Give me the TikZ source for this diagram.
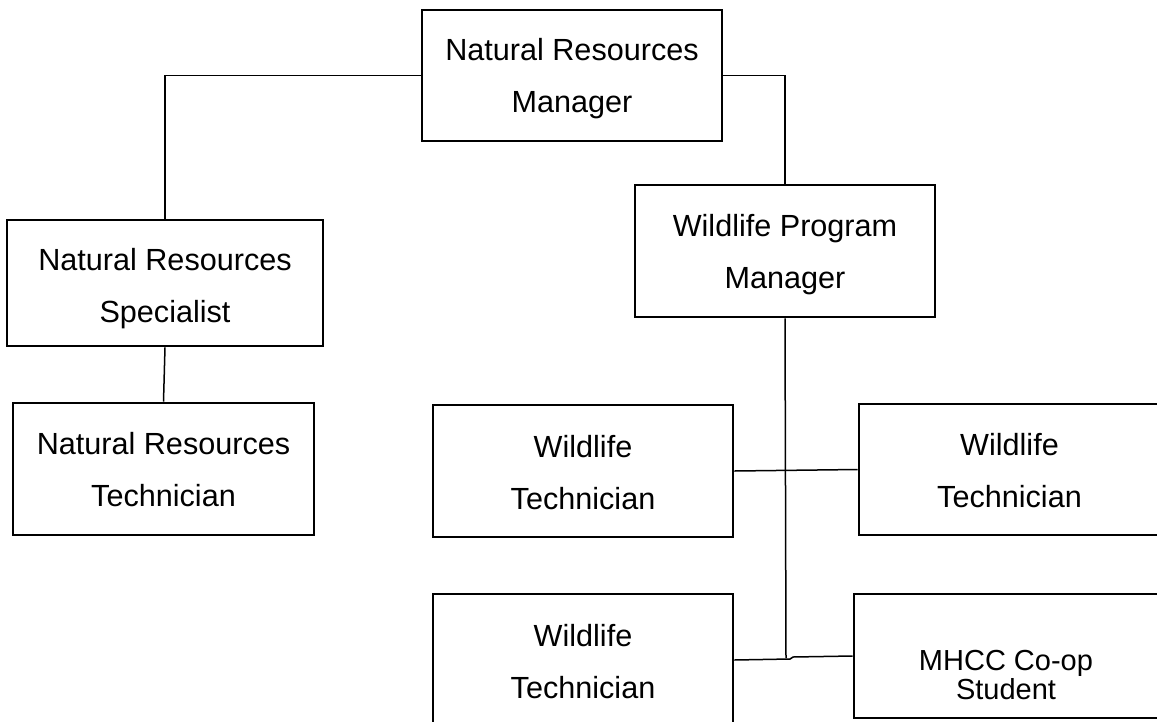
\documentclass[tikz,border=0pt]{standalone}
\usepackage{fontspec}
\setmainfont{Liberation Sans}
\begin{document}
\begin{tikzpicture}[x=1pt,y=-1pt,
  box/.style={draw=black,line width=2.6pt,inner sep=0pt,minimum width=#1},
  box/.default=300pt,
  txt/.style={inner sep=0pt,align=center,font=\fontsize{30.6}{52}\selectfont},
  stxt/.style={inner sep=0pt,align=center,font=\fontsize{29}{27}\selectfont},
  link/.style={draw=black,line width=1.5pt}]
\useasboundingbox (0,0) rectangle (1157,721);
\fill[white] (0,0) rectangle (1157,721);
% boxes
\node[box=300pt,minimum height=131pt] (nrm) at (572,75.5) {};
\node[box=316pt,minimum height=126pt] (nrs) at (165,283) {};
\node[box=301pt,minimum height=132pt] (nrt) at (163.5,469) {};
\node[box=300pt,minimum height=132pt] (wpm) at (785,251) {};
\node[box=300pt,minimum height=132pt] (wt1) at (583,471) {};
\node[box=301pt,minimum height=131pt] (wt2) at (1009.5,469.5) {};
\node[box=300pt,minimum height=132pt] (wt3) at (583,660) {};
\node[box=304pt,minimum height=124pt] (mhcc) at (1006,656) {};
% texts
\node[txt] (nrmT) at ([yshift=-3.5pt]nrm.center) {Natural Resources\\Manager};
\node[txt] (nrsT) at ([yshift=-6pt]nrs.center) {Natural Resources\\Specialist};
\node[txt] (nrtT) at ([yshift=-1pt]nrt.center) {Natural Resources\\Technician};
\node[txt] (wpmT) at ([yshift=-4pt]wpm.center) {Wildlife Program\\Manager};
\node[txt] (wt1T) at ([yshift=-1.5pt]wt1.center) {Wildlife\\Technician};
\node[txt] (wt2T) at ([yshift=-1.5pt]wt2.center) {Wildlife\\Technician};
\node[txt] (wt3T) at ([yshift=-1.5pt]wt3.center) {Wildlife\\Technician};
\node[stxt] (mhccT) at ([yshift=-19pt]mhcc.center) {MHCC Co-op\\Student};
% connectors
\coordinate (j) at (786,658);
\coordinate (j1) at (790,659);
\coordinate (j2) at (793,657);
\draw[link] (nrm.west) -| (nrs.north);
\draw[link] (nrm.east) -| (wpm.north);
\draw[link] (nrs.south) -- (nrt.north);
\draw[link] (wpm.south) -- (j);
\draw[link] (wt1.east) -- (wt2.west);
\draw[link] (wt3.east) -- (j1) -- (j2) -- (mhcc.west);
\end{tikzpicture}
\end{document}
